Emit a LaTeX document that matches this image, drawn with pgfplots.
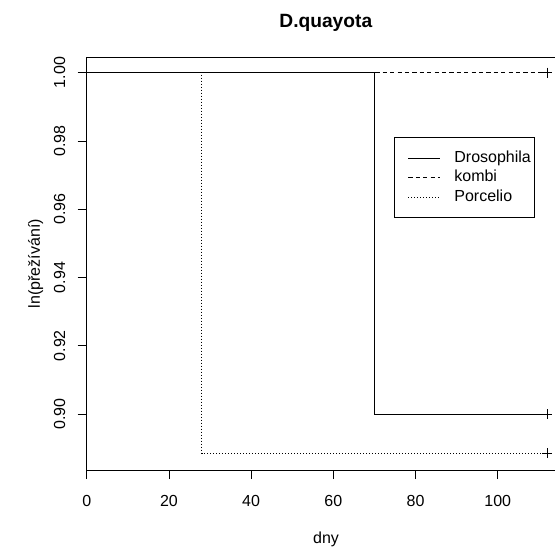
\documentclass[border=0pt]{standalone}
\usepackage{fontspec}
\setmainfont{Liberation Sans}
\usepackage{pgfplots}
\pgfplotsset{compat=1.18}
\begin{document}
\fontsize{16bp}{19bp}\selectfont
\begin{tikzpicture}
\begin{axis}[
  scale only axis,
  width=468.3bp, height=412.7bp,
  xmin=0, xmax=113.94,
  ymin=0.8836, ymax=1.0045,
  clip=false,
  axis line style={draw=none},
  tick align=outside,
  tick pos=left,
  major tick length=9bp,
  tick style={black, line width=0.75bp},
  xtick={0,20,40,60,80,100},
  ytick={0.90,0.92,0.94,0.96,0.98,1.00},
  /pgf/number format/assume math mode=true,
  yticklabel={\pgfmathprintnumber[fixed,fixed zerofill,precision=2]{\tick}},
  xticklabel style={font=\fontsize{16bp}{19bp}\selectfont, anchor=base, yshift=-27bp},
  yticklabel style={font=\fontsize{16bp}{19bp}\selectfont, xshift=-12.7bp, rotate=90, anchor=base},
  title={D.quayota},
  every axis title/.style={at={(rel axis cs:0.5106,1)}, anchor=base, yshift=30bp, font=\bfseries\fontsize{19.2bp}{23bp}\selectfont},
  xlabel={dny},
  every axis x label/.style={at={(rel axis cs:0.511,0)}, anchor=base, yshift=-73.5bp, font=\fontsize{16bp}{19bp}\selectfont},
  ylabel={ln(přežívání)},
  every axis y label/.style={at={(rel axis cs:0,0.5)}, xshift=-46.7bp, rotate=90, anchor=base, font=\fontsize{16bp}{19bp}\selectfont},
  legend style={at={(rel axis cs:0.6562,0.8057)}, anchor=north west, draw=black, line width=0.75bp,
    inner xsep=4bp, inner ysep=12.5bp, row sep=3.5bp,
    font=\fontsize{16bp}{19bp}\selectfont,
    nodes={inner sep=0pt, text height=12bp, text depth=4bp, anchor=west}},
  legend cell align=left,
  legend image code/.code={%
    \pgfpathmoveto{\pgfpoint{0bp}{0bp}}\pgfpathlineto{\pgfpoint{56bp}{0bp}}\pgfusepath{discard}%
    \draw[#1] (10bp,0bp) -- (42bp,0bp);},
]
\coordinate (bl) at (rel axis cs:0,0);
\draw[black, line width=0.75bp] (rel axis cs:0,0) -- (rel axis cs:0,1) -- (rel axis cs:1,1);
\draw[black, line width=0.75bp] (rel axis cs:0,0) -- (rel axis cs:1,0);
\addplot[black, line width=0.75bp] coordinates {(0,1.00) (70,1.00) (70,0.90) (112,0.90)};
\addlegendentry{Drosophila}
\addplot[black, line width=0.75bp, dash pattern=on 4.2bp off 3.2bp] coordinates {(0,1.00) (112,1.00)};
\addlegendentry{kombi}
\addplot[black, line width=0.75bp, dash pattern=on 1bp off 2bp] coordinates {(0,1.00) (28,1.00) (28,0.8885) (112,0.8885)};
\addlegendentry{Porcelio}
\addplot[forget plot, only marks, mark=+, mark size=5bp, black, mark options={line width=0.75bp}] coordinates {(112,1.00) (112,0.90) (112,0.8885)};
\end{axis}
\pgfresetboundingbox
\path (bl) ++(-86.7bp,-78bp) rectangle ++(555bp,548bp);
\end{tikzpicture}
\end{document}
